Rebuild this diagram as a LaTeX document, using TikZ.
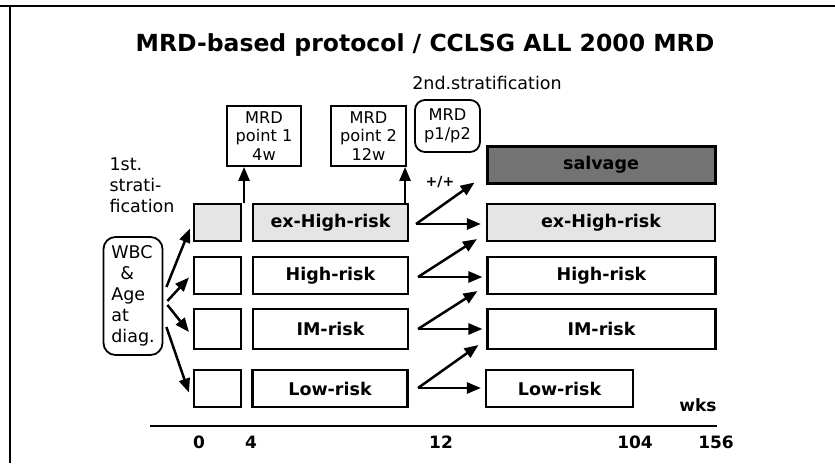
\documentclass[tikz,border=0pt]{standalone}
\usepackage{fontspec}
\setmainfont{DejaVu Sans}
\usetikzlibrary{arrows.meta,calc}
\begin{document}
\begin{tikzpicture}[x=1pt,y=-1pt,
  bx/.style={draw, line width=2.1pt, minimum height=37pt, inner sep=0pt,
    font=\fontsize{17.5}{21}\selectfont\bfseries},
  speck/.style={fill=gray!20},
  dark/.style={fill=black!55, line width=3pt},
  arr/.style={line width=2.5pt, -{Triangle[length=14pt,width=11pt]}},
  mrdbox/.style={draw, line width=1.8pt, align=center, inner sep=0pt,
    font=\fontsize{16.2}{18.9}\selectfont},
  lbl/.style={font=\fontsize{17.5}{21}\selectfont},
  num/.style={font=\fontsize{17}{20}\selectfont\bfseries}
]
\useasboundingbox (0,0) rectangle (835,463);
% frame
\coordinate (f1) at (0,6);
\coordinate (f2) at (835,6);
\coordinate (f3) at (10,6);
\coordinate (f4) at (10,463);
\draw[line width=2.2pt] (f1) -- (f2);
\draw[line width=2.2pt] (f3) -- (f4);

% titles
\node[font=\fontsize{23.5}{28}\selectfont\bfseries] (title) at (425,45) {MRD-based protocol / CCLSG ALL 2000 MRD};
\node[lbl] (second) at (487,83) {2nd.stratification};
\node[lbl, anchor=west, align=left] (first) at (106,185) {1st.\\strati-\\fication};

% WBC box
\node[draw, line width=1.8pt, rounded corners=12pt, minimum width=59pt, minimum height=118pt,
  inner sep=0pt, align=left, lbl] (wbc) at (133,296) {WBC\\\hspace{9pt}\&\\Age\\at\\diag.};

% MRD boxes
\node[mrdbox, minimum width=74pt, minimum height=60pt] (mrd1) at (264,136) {MRD\\point 1\\4w};
\node[mrdbox, minimum width=75pt, minimum height=60pt] (mrd2) at (368.5,136) {MRD\\point 2\\12w};
\node[mrdbox, rounded corners=10pt, minimum width=65pt, minimum height=52pt] (mrd3) at (447.5,126) {MRD\\p1/p2};

% small boxes
\node[bx, speck, minimum width=47pt] (s1) at (217.5,222.5) {};
\node[bx, minimum width=47pt] (s2) at (217.5,275.5) {};
\node[bx, minimum width=47pt, minimum height=40pt] (s3) at (217.5,329) {};
\node[bx, minimum width=47pt] (s4) at (217.5,388.5) {};

% middle boxes
\node[bx, speck, minimum width=155pt] (m1) at (330.5,222.5) {ex-High-risk};
\node[bx, minimum width=155pt] (m2) at (330.5,275.5) {High-risk};
\node[bx, minimum width=155pt, minimum height=40pt] (m3) at (330.5,329) {IM-risk};
\node[bx, minimum width=155pt] (m4) at (330,388.5) {Low-risk};

% right boxes
\node[bx, dark, minimum width=228pt] (r0) at (601,164.5) {salvage};
\node[bx, speck, minimum width=228pt] (r1) at (601,222.5) {ex-High-risk};
\node[bx, minimum width=228pt] (r2) at (601.5,275.5) {High-risk};
\node[bx, minimum width=228pt, minimum height=40pt] (r3) at (601.5,329) {IM-risk};
\node[bx, minimum width=147pt] (r4) at (559.5,388.5) {Low-risk};

% arrows from WBC
\draw[arr] ([xshift=3pt,yshift=9pt]wbc.east) -- ([xshift=-3pt,yshift=-6pt]s1.west);
\draw[arr] ([xshift=4pt,yshift=-5pt]wbc.east) -- ([xshift=-4pt,yshift=-2pt]s2.west);
\draw[arr] ([xshift=4pt,yshift=-9pt]wbc.east) -- ([xshift=-4pt,yshift=-3pt]s3.west);
\draw[arr] ([xshift=3pt,yshift=-31pt]wbc.east) -- ([xshift=-4pt,yshift=-4pt]s4.west);

% up arrows to MRD points
\draw[arr] ([xshift=2pt]s1.north east) -- ([xshift=2pt]s1.north east |- mrd1.south);
\draw[arr] ([xshift=-4pt]m1.north east) -- ([xshift=-4pt]m1.north east |- mrd2.south);

% second stratification arrows
\coordinate (v1) at (416,224);
\coordinate (v2) at (418,277);
\coordinate (v3) at (418,329);
\coordinate (v4) at (418,388);
\draw[arr] (v1) -- ([xshift=-5pt]r1.west |- v1);
\draw[arr] (v1) -- ([xshift=-11pt,yshift=2pt]r0.south west);
\draw[arr] (v2) -- ([xshift=-4pt]r2.west |- v2);
\draw[arr] (v2) -- ([xshift=-9pt,yshift=3pt]r1.south west);
\draw[arr] (v3) -- ([xshift=-4pt]r3.west |- v3);
\draw[arr] (v3) -- ([xshift=-9pt,yshift=4pt]r2.south west);
\draw[arr] (v4) -- ([xshift=-4pt]r4.west |- v4);
\draw[arr] (v4) -- ([xshift=-8pt,yshift=5pt]r3.south west);
\node[font=\fontsize{14}{16}\selectfont\bfseries] (pp) at (440,182) {+/+};

% axis
\coordinate (ax1) at (150,426);
\coordinate (ax2) at (717,426);
\draw[line width=1.6pt] (ax1) -- (ax2);
\node[num] (t0) at (199,442) {0};
\node[num] (t4) at (251,442) {4};
\node[num] (t12) at (441,442) {12};
\node[num] (t104) at (635,442) {104};
\node[num] (t156) at (716,442) {156};
\node[num] (wks) at (698,405) {wks};
\end{tikzpicture}
\end{document}
